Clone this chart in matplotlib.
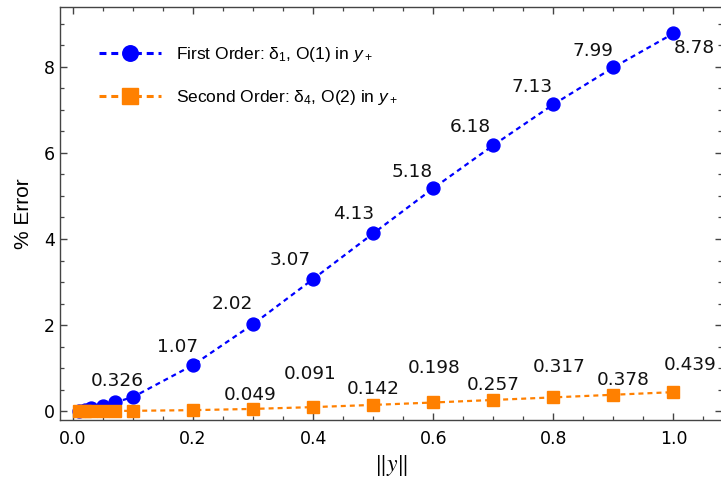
import numpy as np
import matplotlib
matplotlib.use('Agg')
import matplotlib.pyplot as plt

plt.rcParams['lines.scale_dashes'] = False
plt.rcParams['mathtext.fontset'] = 'custom'
plt.rcParams['mathtext.rm'] = 'Liberation Sans'
plt.rcParams['mathtext.it'] = 'Liberation Sans:italic'

# data
x_vals = [0.01, 0.02, 0.03, 0.05, 0.07, 0.1, 0.2, 0.3, 0.4, 0.5, 0.6, 0.7, 0.8, 0.9, 1.0]
first_order = [0.01, 0.03, 0.06, 0.12, 0.2, 0.326, 1.07, 2.02, 3.07, 4.13, 5.18, 6.18, 7.13, 7.99, 8.78]
second_order = [0.0001, 0.0003, 0.0006, 0.001, 0.002, 0.005, 0.02, 0.049, 0.091, 0.142, 0.198, 0.257, 0.317, 0.378, 0.439]

# which points carry a value label
lab_x1 = [0.1, 0.2, 0.3, 0.4, 0.5, 0.6, 0.7, 0.8, 0.9, 1.0]
lab_t1 = ['0.326', '1.07', '2.02', '3.07', '4.13', '5.18', '6.18', '7.13', '7.99', '8.78']
lab_x2 = [0.3, 0.4, 0.5, 0.6, 0.7, 0.8, 0.9, 1.0]
lab_t2 = ['0.049', '0.091', '0.142', '0.198', '0.257', '0.317', '0.378', '0.439']

blue = '#0000ff'
orange = '#ff8000'

fig = plt.figure(figsize=(7.21, 4.90), dpi=100)
ax = fig.add_axes([60/721, 1-420/490, 661.5/721, 413/490])

ax.plot(x_vals, first_order, ls='--', dashes=(3.6, 2.9), lw=1.6, color=blue,
        marker='o', ms=9.3, label=r'First Order: δ$_1$, O(1) in $y_+$')
ax.plot(x_vals, second_order, ls='--', dashes=(3.6, 2.9), lw=1.6, color=orange,
        marker='s', ms=9.3, label=r'Second Order: δ$_4$, O(2) in $y_+$')

# label offsets (pixels) as placed in the picture
off1 = [(-16, 16), (-16, 18), (-21, 20), (-23, 19), (-20, 19), (-21, 16), (-23, 18),
        (-21, 17), (-20, 16), (21, -15)]
off2 = [(-3, 14), (-3, 33), (0, 16), (1, 34), (0, 15), (6, 30), (10, 15), (17, 27)]

lookup1 = dict(zip(x_vals, first_order))
lookup2 = dict(zip(x_vals, second_order))
for xv, t, o in zip(lab_x1, lab_t1, off1):
    ax.annotate(t, (xv, lookup1[xv]), xytext=o, textcoords='offset pixels',
                ha='center', va='center', fontsize=13.3, color='#111111')
for xv, t, o in zip(lab_x2, lab_t2, off2):
    ax.annotate(t, (xv, lookup2[xv]), xytext=o, textcoords='offset pixels',
                ha='center', va='center', fontsize=13.3, color='#111111')

ax.set_xlim(-0.0217, 1.08)
ax.set_ylim(-0.209, 9.395)
ax.set_xticks(np.arange(0, 1.01, 0.2))
ax.set_xticks(np.arange(0, 1.1, 0.05), minor=True)
ax.set_yticks([0, 2, 4, 6, 8])
ax.set_yticks(np.arange(0, 9.4, 0.5), minor=True)
ax.set_xticklabels(['0.0', '0.2', '0.4', '0.6', '0.8', '1.0'])

ax.tick_params(which='both', direction='in', top=True, right=True, color='#444444')
ax.tick_params(which='major', length=5, width=1, labelsize=12.5, pad=7)
ax.tick_params(axis='y', which='major', pad=3.5)
ax.tick_params(which='minor', length=3, width=0.9)
for s in ax.spines.values():
    s.set_color('#444444')
    s.set_linewidth(1)

ax.set_ylabel('% Error', fontsize=15, family='Liberation Sans', labelpad=8)
ax.set_xlabel(r'$\Vert y \Vert$', fontsize=17, math_fontfamily='stix', labelpad=4)

leg = ax.legend(loc='upper left', bbox_to_anchor=(0.035, 0.946), frameon=False,
                prop={'family': 'Liberation Sans', 'size': 12.5}, handlelength=3.6,
                handletextpad=0.85, labelspacing=1.4, markerscale=1.2, numpoints=1)
for h in leg.get_lines():
    h.set_linewidth(2.2)
    h.set_dashes((5, 3.5))

fig.savefig('out.png', dpi=100)
